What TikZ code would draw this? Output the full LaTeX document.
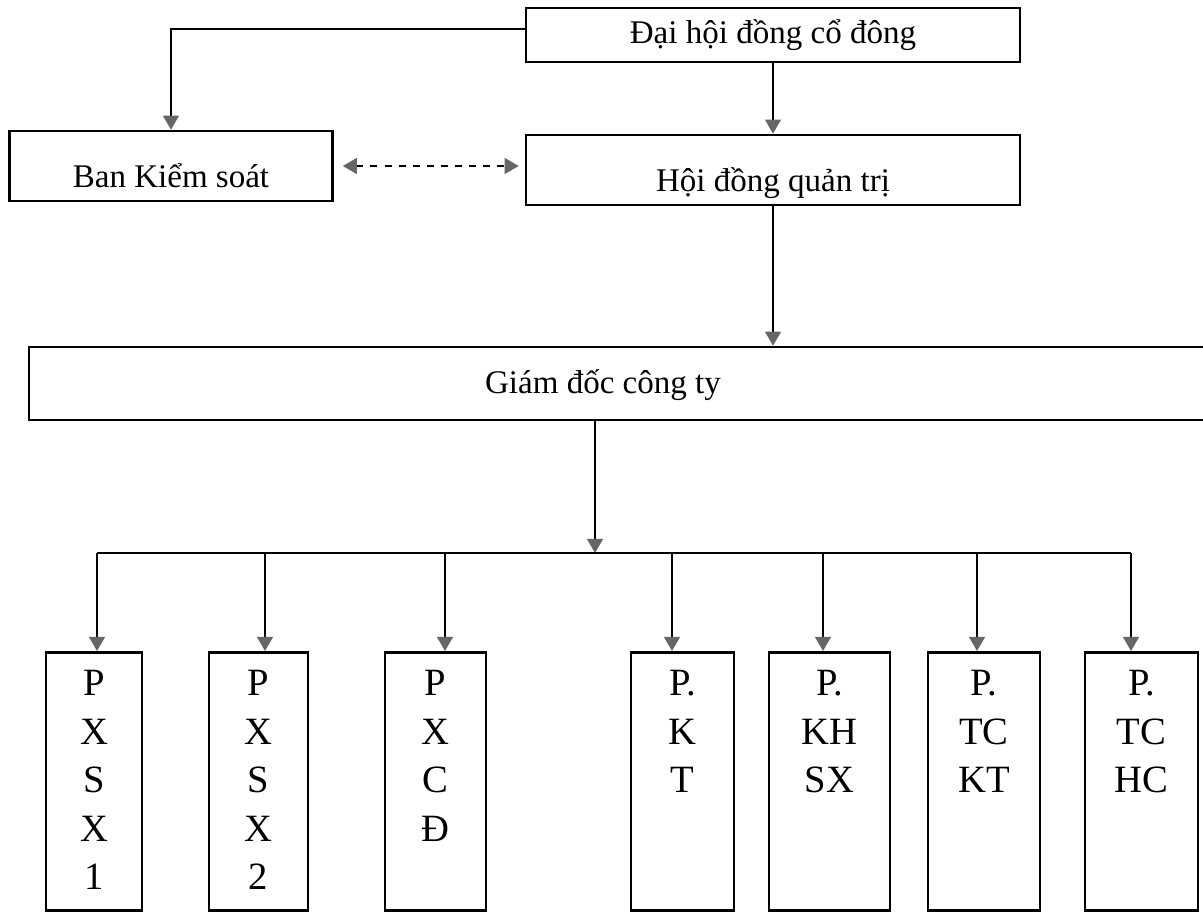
\documentclass[tikz,border=0pt]{standalone}
\usepackage{fontspec}
\setmainfont{Liberation Serif}
\usetikzlibrary{arrows.meta}
\tikzset{
    box/.style={draw=black, line width=1.5pt, inner sep=0pt},
    head/.style={font=\fontsize{18.8}{22}\selectfont},
    low/.style={text height=28pt, text depth=4pt},
    col/.style={font=\fontsize{22}{27.6}\selectfont, align=center, inner sep=0pt, anchor=north},
    link/.style={draw=black, line width=1pt},
    >={Triangle[width=9pt, length=8pt, color=black!60]}}

\begin{document}
\begin{tikzpicture}[x=0.02cm, y=-0.02cm]

            \useasboundingbox (0,0) rectangle (1203,912);
            \fill[white] (0,0) rectangle (1203,912);

            \node[box, head, minimum width=9.88cm, minimum height=1.08cm] (DH) at (773,35) {Đại hội đồng cổ đông};
            \node[box, head, low, minimum width=6.46cm, minimum height=1.4cm] (BK) at (171,166) {Ban Kiểm soát};
            \node[box, head, low, minimum width=9.88cm, minimum height=1.4cm] (HQ) at (773,170) {Hội đồng quản trị};
            \node[box, minimum width=24.02cm, minimum height=1.46cm] (GD) at (629.5,383.5) {};
            \node[head, inner sep=0pt] (GDt) at (603,385) {Giám đốc công ty};

            \node[box, anchor=north, minimum width=1.92cm, minimum height=5.16cm] (P1) at (94,651) {};
            \node[box, anchor=north, minimum width=1.98cm, minimum height=5.16cm] (P2) at (258.5,651) {};
            \node[box, anchor=north, minimum width=2.02cm, minimum height=5.16cm] (P3) at (435.5,651) {};
            \node[box, anchor=north, minimum width=2.06cm, minimum height=5.16cm] (P4) at (682.5,651) {};
            \node[box, anchor=north, minimum width=2.42cm, minimum height=5.16cm] (P5) at (829.5,651) {};
            \node[box, anchor=north, minimum width=2.24cm, minimum height=5.16cm] (P6) at (984,651) {};
            \node[box, anchor=north, minimum width=2.26cm, minimum height=5.16cm] (P7) at (1141.5,651) {};

            \node[col] (T1) at ([yshift=-0.38cm]P1.north) {P\\X\\S\\X\\1};
            \node[col] (T2) at ([yshift=-0.38cm]P2.north) {P\\X\\S\\X\\2};
            \node[col] (T3) at ([yshift=-0.38cm]P3.north) {P\\X\\C\\Đ};
            \node[col] (T4) at ([yshift=-0.38cm]P4.north) {P.\\K\\T};
            \node[col] (T5) at ([yshift=-0.38cm]P5.north) {P.\\KH\\SX};
            \node[col] (T6) at ([yshift=-0.38cm]P6.north) {P.\\TC\\KT};
            \node[col] (T7) at ([yshift=-0.38cm]P7.north) {P.\\TC\\HC};

            % bus under the director
            \coordinate (J) at (595,553);
            \coordinate (J1) at (97,553);
            \coordinate (J2) at (265,553);
            \coordinate (J3) at (445,553);
            \coordinate (J4) at (672,553);
            \coordinate (J5) at (823,553);
            \coordinate (J6) at (977,553);
            \coordinate (J7) at (1131,553);

            \draw[link, ->] ([yshift=0.12cm]DH.west) -| (BK.north);
            \draw[link, ->] (DH) -- (HQ);
            \draw[link, <->, dash pattern=on 4pt off 4pt, shorten <=0.18cm, shorten >=0.12cm] (BK.east) -- (BK.east -| HQ.west);
            \draw[link, ->] (HQ.south) -- (HQ.south |- GD.north);
            \draw[link, ->] (J |- GD.south) -- (J);

            \draw[link] (J1) -- (J7);
            \draw[link, ->] (J1) -- (J1 |- P1.north);
            \draw[link, ->] (J2) -- (J2 |- P2.north);
            \draw[link, ->] (J3) -- (J3 |- P3.north);
            \draw[link, ->] (J4) -- (J4 |- P4.north);
            \draw[link, ->] (J5) -- (J5 |- P5.north);
            \draw[link, ->] (J6) -- (J6 |- P6.north);
            \draw[link, ->] (J7) -- (J7 |- P7.north);

        \end{tikzpicture}
\end{document}
